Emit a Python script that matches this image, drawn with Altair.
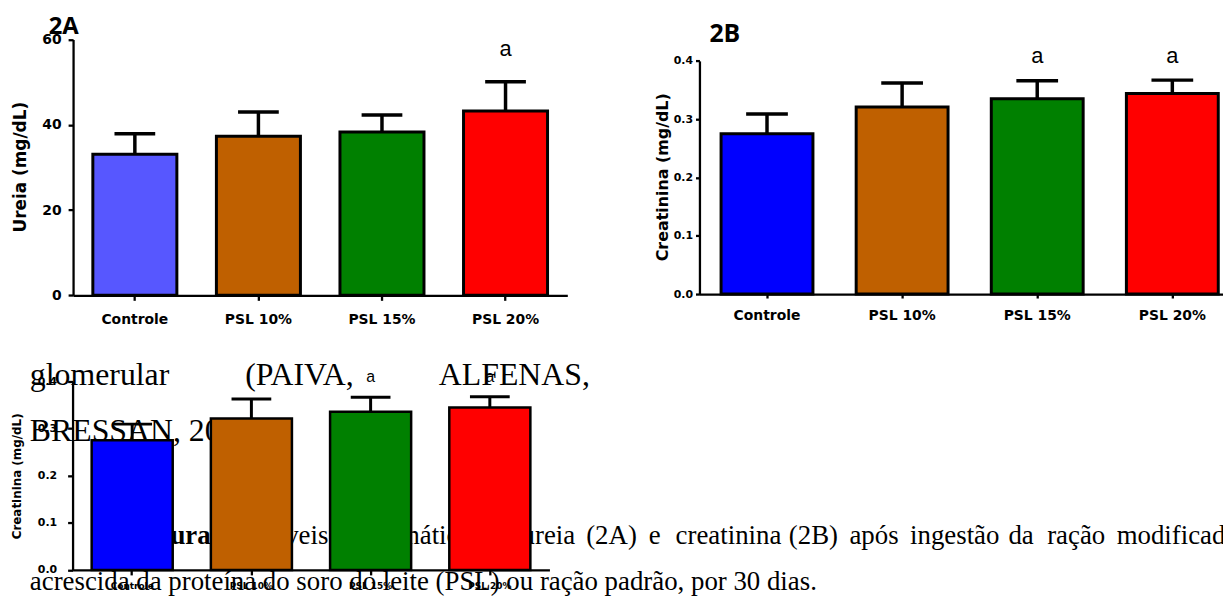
import altair as alt
import pandas as pd

# ---------------- data ----------------
categories = ["Controle", "PSL 10%", "PSL 15%", "PSL 20%"]

ureia_mean = [33.1, 37.3, 38.3, 43.2]
ureia_upper = [37.9, 43.0, 42.3, 50.1]
ureia_sig = ["", "", "", "a"]

creat_mean = [0.275, 0.321, 0.335, 0.344]
creat_upper = [0.309, 0.362, 0.366, 0.367]
creat_sig = ["", "", "a", "a"]

ureia_ticks = [0, 20, 40, 60]
creat_ticks = [0.0, 0.1, 0.2, 0.3, 0.4]

panel_labels = ["2A", "2B"]
body_line1 = ["glomerular", "(PAIVA,", "ALFENAS,"]
body_line2 = ["BRESSAN, 20"]
caption_bold = ["Figura 2 –"]
caption_line1 = ["Níveis", "plasmáticos", "de", "ureia", "(2A)", "e", "creatinina",
                 "(2B)", "após", "ingestão", "da", "ração", "modificada"]
caption_line2 = ["acrescida da proteína do soro do leite (PSL) ou ração padrão, por 30 dias."]

# ---------------- layout ----------------
W, H = 1223, 589
colors_a = ["#5757FF", "#BF6000", "#008000", "#FF0000"]
colors_b = ["#0000FF", "#BF6000", "#008000", "#FF0000"]
AXF = "DejaVu Sans"


def panel(mean, upper, sig, colors, x_range, y_range, y_domain, y_values, y_format,
          y_title, title_x, title_y, xlab_size, ylab_size, title_size, xlab_pad, ylab_pad,
          tick_size, dom_w, bar_stroke, err_w, cap_size, sig_size, sig_y):
    df = pd.DataFrame({"cat": categories, "mean": mean, "upper": upper, "sig": sig})
    base = alt.Chart(df)

    def xs():
        return alt.Scale(domain=categories, range=x_range, paddingInner=0.32, paddingOuter=0.16)

    def ys():
        return alt.Scale(domain=y_domain, range=y_range, nice=False)

    x_axis = alt.Axis(orient="bottom", offset=y_range[0] - H, title=None, labelAngle=0,
                      domainColor="black", domainWidth=dom_w, tickColor="black",
                      tickWidth=dom_w, tickSize=tick_size, labelFont=AXF,
                      labelFontWeight="bold", labelFontSize=xlab_size, labelColor="black",
                      labelPadding=xlab_pad, grid=False)
    y_axis = alt.Axis(orient="left", offset=-x_range[0], values=y_values, format=y_format,
                      grid=False, domainColor="black", domainWidth=dom_w, tickColor="black",
                      tickWidth=dom_w, tickSize=tick_size, labelFont=AXF,
                      labelFontWeight="bold", labelFontSize=ylab_size, labelColor="black",
                      labelPadding=ylab_pad, title=y_title, titleFont=AXF,
                      titleFontWeight="bold", titleFontSize=title_size, titleColor="black",
                      titleAngle=270, titleX=title_x, titleY=title_y, titleAlign="center",
                      titleBaseline="middle")
    bars = base.mark_bar(stroke="black", strokeWidth=bar_stroke).encode(
        x=alt.X("cat:N", scale=xs(), axis=x_axis, sort=categories),
        y=alt.Y("mean:Q", scale=ys(), axis=y_axis),
        color=alt.Color("cat:N", scale=alt.Scale(domain=categories, range=colors), legend=None),
    )
    err = base.mark_rule(color="black", strokeWidth=err_w).encode(
        x=alt.X("cat:N", scale=xs(), axis=None, sort=categories),
        y=alt.Y("mean:Q", scale=ys(), axis=None),
        y2="upper:Q",
    )
    caps = base.mark_tick(color="black", thickness=err_w, size=cap_size,
                          orient="horizontal", opacity=1).encode(
        x=alt.X("cat:N", scale=xs(), axis=None, sort=categories),
        y=alt.Y("upper:Q", scale=ys(), axis=None),
    )
    sigt = base.transform_filter("datum.sig != ''").mark_text(
        font="Liberation Sans", fontSize=sig_size, baseline="alphabetic", color="black"
    ).encode(
        x=alt.X("cat:N", scale=xs(), axis=None, sort=categories),
        y=alt.Y(datum=sig_y, scale=ys(), axis=None),
        text="sig:N",
    )
    return [err, bars, caps, sigt]


layersA = panel(ureia_mean, ureia_upper, ureia_sig, colors_a, [65.5, 563], [287.3, 29.7],
                [0, 60], ureia_ticks, "d", "Ureia (mg/dL)", -53, 157.8,
                14, 14, 17, 12, 7, 5, 2.3, 3, 3.5, 41, 22, 56.0)
layersB = panel(creat_mean, creat_upper, creat_sig, colors_b, [696, 1240], [286, 51.3],
                [0, 0.4], creat_ticks, ".1f", "Creatinina (mg/dL)", -37, 168,
                14, 11, 16, 11, 3, 4, 2.3, 3, 3.5, 42, 22, 0.396)
layersC = panel(creat_mean, creat_upper, creat_sig, colors_b, [65, 545], [563.7, 373.7],
                [0, 0.4], creat_ticks, ".1f", "Creatinina (mg/dL)", -56, 469,
                9, 11, 12, 7, 11, 5, 2.3, 2.5, 3, 40, 16, 0.399)


def txt(s, x, y, size, font="Liberation Serif", weight="normal"):
    return alt.Chart(pd.DataFrame({"t": [s]})).mark_text(
        font=font, fontSize=size, fontWeight=weight, align="left",
        baseline="alphabetic", color="black",
    ).encode(x=alt.value(x), y=alt.value(y), text="t:N")


texts = [
    txt(panel_labels[0], 41, 24, 24, font="Open Sans", weight="bold"),
    txt(panel_labels[1], 706, 32, 25, font="Open Sans", weight="bold"),
    txt(body_line1[0], 22, 378, 32),
    txt(body_line1[1], 238.7, 378, 32),
    txt(body_line1[2], 433.7, 378, 32),
    txt(body_line2[0], 22, 433.7, 32),
    txt(caption_bold[0], 126, 538, 27, weight="bold"),
]
cap_x = [252, 350, 482, 517, 582, 645, 672, 786, 847, 908, 1007, 1046, 1116]
for word, xx in zip(caption_line1, cap_x):
    texts.append(txt(word, xx, 538, 27))
texts.append(txt(caption_line2[0], 22, 583.7, 27))

chart = alt.layer(*texts, *layersA, *layersB, *layersC).resolve_scale(
    x="independent", y="independent", color="independent"
).properties(
    width=W, height=H, padding=0, autosize=alt.AutoSizeParams(type="none")
).configure_view(stroke=None)

chart.save("out.html", embed_options={"renderer": "svg", "actions": False})
